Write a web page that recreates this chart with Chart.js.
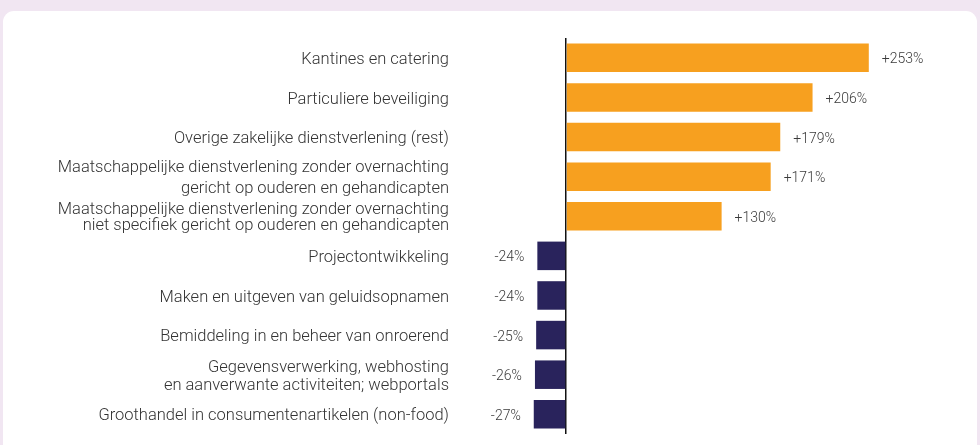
<!DOCTYPE html>
<html>
<head>
<meta charset="utf-8">
<script src="https://cdn.jsdelivr.net/npm/chart.js@4.4.1/dist/chart.umd.min.js"></script>
<style>
  html, body { margin: 0; padding: 0; background: #f1e6f2; overflow: hidden; }
  #card {
    position: absolute; left: 3px; top: 11px; width: 974px; height: 460px;
    background: #fff; border-radius: 11px;
  }
  #myChart { position: absolute; left: 0; top: 0; }
</style>
</head>
<body>
<div id="card"></div>
<canvas id="myChart" width="980" height="445"></canvas>
<script>
const sectoren = [
    'Kantines en catering',
    'Particuliere beveiliging',
    'Overige zakelijke dienstverlening (rest)',
    ['Maatschappelijke dienstverlening zonder overnachting', 'gericht op ouderen en gehandicapten'],
    ['Maatschappelijke dienstverlening zonder overnachting', 'niet specifiek gericht op ouderen en gehandicapten'],
    'Projectontwikkeling',
    'Maken en uitgeven van geluidsopnamen',
    'Bemiddeling in en beheer van onroerend',
    ['Gegevensverwerking, webhosting', 'en aanverwante activiteiten; webportals'],
    'Groothandel in consumentenartikelen (non-food)'
];

const groei = [253, 206, 179, 171, 130, -24, -24, -25, -26, -27];

const oranje = '#f7a01f';
const paars = '#29235c';

// regelafstand van de labels met twee regels
const regelHoogte = { 3: 1.26, 4: 0.97, 8: 1.08 };

const graph = document.querySelector('#myChart');

const waardeLabels = {
    id: 'waardeLabels',
    afterDatasetsDraw(chart) {
        const ctx = chart.ctx;
        const meta = chart.getDatasetMeta(0);
        ctx.save();
        ctx.font = '300 14px Roboto, "Noto Sans", sans-serif';
        ctx.fillStyle = '#3a3a3a';
        ctx.textBaseline = 'middle';
        meta.data.forEach((bar, i) => {
            const v = groei[i];
            if (v >= 0) {
                ctx.textAlign = 'left';
                ctx.fillText('+' + v + '%', bar.x + 13, bar.y + 2);
            } else {
                ctx.textAlign = 'right';
                ctx.fillText(v + '%', bar.x - 13, bar.y + 2);
            }
        });
        ctx.restore();
    }
};

new Chart(graph, {
    type: 'bar',
    data: {
        labels: sectoren,
        datasets: [{
            data: groei,
            backgroundColor: groei.map(v => v >= 0 ? oranje : paars),
            borderWidth: 0,
            barPercentage: 0.72,
            categoryPercentage: 1
        }]
    },
    options: {
        indexAxis: 'y',
        responsive: false,
        animation: false,
        layout: {
            padding: { top: 38, bottom: 7, left: 0, right: 43 }
        },
        scales: {
            x: {
                min: -97,
                max: 310,
                afterFit: (axis) => { axis.height = 0; },
                afterBuildTicks: (axis) => { axis.ticks = [{ value: 0 }]; },
                ticks: { display: false },
                border: { display: false },
                grid: {
                    drawTicks: false,
                    color: '#111',
                    lineWidth: 1.5
                }
            },
            y: {
                afterFit: (axis) => { axis.width = 450; },
                border: { display: false },
                grid: { display: false, drawTicks: false },
                ticks: {
                    autoSkip: false,
                    padding: 1,
                    labelOffset: 2,
                    color: '#333',
                    font: (c) => ({
                        family: 'Roboto, "Noto Sans", sans-serif',
                        size: 16.5,
                        weight: 300,
                        lineHeight: regelHoogte[c.index] || 1.2
                    })
                }
            }
        },
        plugins: {
            legend: { display: false },
            tooltip: { enabled: false }
        }
    },
    plugins: [waardeLabels]
});
</script>
</body>
</html>
